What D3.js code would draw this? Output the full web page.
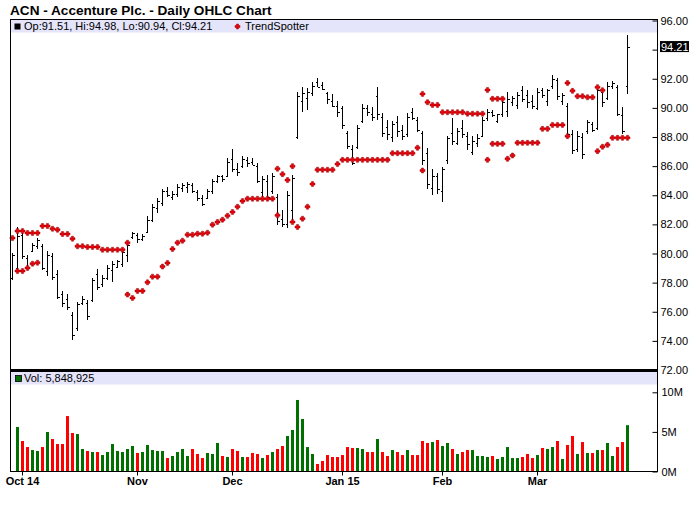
<!DOCTYPE html>
<html>
<head>
<meta charset="utf-8">
<script src="https://cdn.jsdelivr.net/npm/d3@7"></script>
<style>
  body { margin: 0; background: #fff; }
  text { font-family: "Liberation Sans", Arial, sans-serif; }
</style>
</head>
<body>
<svg id="chart" width="700" height="512"></svg>
<script>
// one entry per trading day, Sep 29 2014 .. Mar 26 2015
let openPrice = [
  78.3, 79.0, 81.3, 79.7, 80.2, 80.5, 80.5, 78.8, 79.8, 78.6,
  77.2, 76.9, 75.8, 74.9, 76.6, 76.6, 76.8, 78.6, 77.9, 78.3,
  78.9, 79.1, 79.3, 79.9, 81.1, 81.3, 81.0, 81.5, 82.3, 83.1,
  83.5, 84.3, 83.9, 84.1, 84.5, 84.6, 84.7, 84.2, 83.8, 83.8,
  84.3, 85.0, 85.3, 85.3, 86.5, 85.8, 86.0, 86.4, 86.3, 86.0,
  84.2, 85.0, 84.3, 83.9, 82.4, 82.0, 83.0, 88.0, 90.5, 90.7,
  91.0, 91.8, 91.6, 91.0, 90.5, 90.1, 90.0, 88.3, 87.2, 87.3,
  89.1, 90.0, 89.6, 90.8, 89.4, 88.7, 88.0, 89.0, 88.5, 88.2,
  89.7, 89.2, 88.3, 86.9, 84.5, 85.3, 84.3, 86.4, 88.3, 87.6,
  88.6, 88.1, 87.0, 87.6, 88.1, 89.3, 89.7, 89.1, 89.6, 89.8,
  90.4, 90.2, 91.2, 90.9, 90.5, 90.0, 91.2, 90.5, 91.5, 91.9,
  90.5, 90.1, 88.2, 87.2, 88.0, 88.4, 88.9, 88.6, 91.1, 90.7,
  91.5, 91.4, 89.5, 91.51
];
let highPrice = [
  80.03, 81.82, 81.59, 79.92, 80.72, 81.09, 80.67, 80.17, 80.03, 78.89,
  77.43, 77.24, 75.99, 76.67, 77.06, 76.83, 78.34, 78.96, 78.55, 79.19,
  79.48, 79.58, 80.26, 80.79, 81.47, 81.40, 81.36, 82.55, 83.42, 83.80,
  84.45, 84.56, 84.30, 84.79, 84.85, 84.90, 84.83, 84.33, 84.03, 84.45,
  85.13, 85.41, 85.41, 86.55, 87.19, 86.20, 86.69, 86.62, 86.55, 86.20,
  85.31, 85.41, 85.54, 84.10, 82.96, 84.26, 85.41, 91.12, 91.42, 91.35,
  91.81, 92.03, 91.81, 91.12, 90.96, 90.50, 90.16, 88.40, 87.42, 88.79,
  90.27, 90.23, 90.09, 91.42, 89.63, 89.18, 89.09, 89.47, 88.79, 89.63,
  90.00, 89.36, 88.40, 87.26, 85.82, 85.52, 85.93, 88.10, 89.31, 88.63,
  89.18, 88.33, 88.10, 88.22, 89.36, 89.93, 89.86, 89.59, 90.62, 91.07,
  90.84, 91.07, 91.48, 91.26, 90.89, 91.35, 91.35, 91.30, 92.26, 92.03,
  91.03, 90.34, 88.45, 88.38, 88.29, 89.20, 89.02, 91.42, 91.30, 91.76,
  91.87, 91.58, 90.05, 94.98
];
let lowPrice = [
  78.20, 78.73, 79.65, 78.85, 80.10, 80.33, 78.85, 78.46, 78.20, 76.90,
  76.33, 76.10, 74.09, 74.69, 76.45, 75.42, 76.67, 77.48, 77.70, 78.20,
  78.04, 79.03, 79.07, 79.42, 81.02, 80.72, 80.86, 81.40, 82.16, 82.80,
  83.26, 83.87, 83.65, 83.90, 84.20, 84.17, 84.17, 83.58, 83.26, 83.76,
  84.10, 84.86, 84.90, 85.25, 85.59, 85.31, 85.86, 85.93, 86.05, 84.86,
  83.65, 83.58, 84.10, 81.98, 81.82, 81.75, 82.27, 87.83, 89.70, 89.82,
  90.80, 91.42, 91.26, 90.27, 90.05, 89.36, 88.56, 87.19, 86.05, 87.19,
  88.95, 89.41, 89.13, 89.18, 88.03, 87.81, 87.65, 87.99, 87.81, 88.03,
  89.18, 88.33, 86.11, 84.45, 83.99, 84.06, 83.53, 86.16, 87.42, 87.42,
  87.94, 87.12, 86.73, 87.30, 88.03, 89.13, 89.36, 88.95, 89.36, 89.36,
  90.16, 89.93, 90.39, 90.00, 89.89, 89.82, 90.66, 90.12, 91.30, 90.57,
  90.20, 87.99, 86.85, 86.96, 86.46, 88.22, 88.33, 88.45, 90.05, 90.57,
  91.30, 89.43, 88.22, 90.94
];
let closePrice = [
  79.9, 81.2, 79.8, 79.1, 80.6, 80.9, 79.0, 79.9, 78.4, 77.0,
  76.6, 76.3, 74.4, 76.5, 76.9, 75.7, 78.2, 77.7, 78.3, 79.0,
  79.3, 79.5, 80.1, 80.6, 81.4, 81.0, 81.2, 82.3, 83.2, 83.6,
  84.3, 84.0, 84.1, 84.6, 84.7, 84.75, 84.3, 83.8, 83.4, 84.3,
  85.0, 85.3, 85.1, 86.3, 85.8, 85.6, 86.5, 86.2, 86.1, 85.0,
  85.1, 83.9, 85.3, 82.2, 82.0, 84.0, 85.2, 90.8, 91.0, 91.1,
  91.5, 91.45, 91.3, 90.6, 90.1, 89.7, 88.8, 87.4, 86.2, 88.6,
  90.0, 89.7, 89.4, 89.6, 88.3, 88.2, 88.9, 88.4, 88.1, 89.4,
  89.3, 88.5, 86.4, 84.8, 85.3, 84.4, 85.8, 87.9, 87.7, 88.4,
  88.2, 87.5, 87.7, 87.9, 89.2, 89.7, 89.5, 89.55, 90.4, 90.6,
  90.7, 90.9, 90.6, 90.4, 90.1, 91.1, 90.9, 91.2, 92.0, 90.8,
  90.9, 88.2, 87.1, 88.1, 86.8, 89.0, 88.5, 91.2, 90.4, 91.5,
  91.7, 89.6, 88.4, 94.21
];
// volume in millions, first day has no bar
let volume = [
  null, 5.62, 3.85, 3.09, 2.71, 2.59, 3.09, 4.99, 4.10, 3.47,
  3.47, 7.00, 4.86, 4.73, 2.84, 2.59, 2.46, 2.46, 2.08, 2.46,
  3.47, 2.59, 2.46, 2.84, 3.22, 2.34, 2.46, 3.35, 2.71, 2.59,
  2.59, 1.70, 1.96, 2.46, 2.84, 1.96, 2.84, 2.21, 1.70, 2.34,
  2.21, 3.60, 1.96, 1.83, 2.84, 2.59, 1.83, 1.83, 2.34, 2.21,
  1.70, 2.08, 2.46, 2.84, 3.22, 4.48, 5.24, 9.03, 6.63, 3.09,
  2.21, 0.95, 1.33, 2.08, 1.83, 1.83, 2.08, 3.09, 2.97, 2.97,
  2.84, 2.46, 2.46, 4.10, 2.46, 1.96, 2.71, 2.46, 2.08, 2.71,
  2.08, 2.08, 3.85, 3.60, 3.72, 3.98, 3.22, 3.60, 2.84, 2.21,
  2.46, 2.71, 2.71, 1.96, 1.96, 1.83, 1.96, 1.58, 1.83, 3.09,
  1.70, 1.70, 1.83, 2.21, 1.70, 2.08, 2.97, 2.84, 3.09, 3.85,
  1.58, 3.35, 4.48, 2.21, 3.72, 2.34, 2.34, 2.71, 2.71, 3.60,
  1.96, 3.09, 3.72, 5.85
];
let volumeUp = [
  0, 1, 0, 0, 1, 1, 0, 1, 0, 0,
  0, 0, 0, 1, 1, 0, 1, 0, 1, 1,
  1, 1, 1, 1, 1, 0, 1, 1, 1, 1,
  1, 0, 1, 1, 1, 1, 0, 0, 0, 1,
  1, 1, 0, 1, 0, 0, 1, 0, 0, 0,
  1, 0, 1, 0, 0, 1, 1, 1, 1, 1,
  1, 0, 0, 0, 0, 0, 0, 0, 0, 1,
  1, 0, 0, 1, 0, 0, 1, 0, 0, 1,
  0, 0, 0, 0, 1, 0, 1, 1, 0, 1,
  0, 0, 1, 1, 1, 1, 0, 1, 1, 1,
  1, 1, 0, 0, 0, 1, 0, 1, 1, 0,
  1, 0, 0, 1, 0, 1, 0, 1, 0, 1,
  1, 0, 0, 1
];
let lastVolume = 5848925;

let _ = null;
let trendUpper = [
  81.06, 81.54, 81.54, 81.41, 81.41, 81.41, 81.89, 81.89, 81.70, 81.63,
  81.34, 81.34, 81.02, 80.50, 80.50, 80.45, 80.45, 80.45, 80.26, 80.26,
  80.26, 80.26, 80.26, 80.74, _, _, _, _, _, _,
  _, _, _, _, _, _, _, _, _, _,
  _, _, _, _, _, _, _, _, _, _,
  _, _, _, 85.82, 85.45, 85.04, 86.00, _, _, _,
  _, _, _, _, _, _, _, _, _, _,
  _, _, _, _, _, _, _, _, _, _,
  _, _, 90.96, 90.39, 90.20, 90.20, 89.70, 89.70, 89.70, 89.70,
  89.70, 89.60, 89.60, 89.60, 89.60, 91.23, 90.62, 90.62, 90.62, _,
  _, _, _, _, _, _, _, _, _, _,
  _, 91.71, 91.17, 90.80, 90.80, 90.73, 90.73, 91.42, 91.21, _,
  _, _, _, _
];
let trendLower = [
  _, 78.80, 78.80, 79.01, 79.30, 79.37, _, _, _, _,
  _, _, _, _, _, _, _, _, _, _,
  _, _, _, 77.18, 76.95, 77.43, 77.43, 78.02, 78.41, 78.41,
  79.10, 79.35, 80.31, 80.74, 80.88, 81.29, 81.29, 81.36, 81.36, 81.43,
  81.98, 82.16, 82.32, 82.59, 82.85, 83.21, 83.60, 83.76, 83.76, 83.76,
  83.76, 83.76, 83.76, 82.62, _, _, 82.16, 81.82, 82.39, 83.21,
  84.77, 85.75, 85.75, 85.75, 85.75, 86.14, 86.43, 86.43, 86.43, 86.43,
  86.43, 86.43, 86.43, 86.43, 86.43, 86.43, 86.89, 86.89, 86.89, 86.89,
  86.89, 87.26, 85.70, _, _, _, _, _, _, _,
  _, _, _, _, _, 86.43, 87.53, 87.53, 87.53, 86.50,
  86.73, 87.60, 87.60, 87.60, 87.60, 87.60, 88.56, 88.56, 88.83, 88.83,
  88.83, 88.06, _, _, _, _, _, 87.03, 87.33, 87.46,
  87.94, 87.94, 87.94, 87.94
];

let monthDay = [2, 25, 44, 66, 86, 105];
let monthLabels = ["Oct 14", "Nov", "Dec", "Jan 15", "Feb", "Mar"];
let priceTicks = [72, 74, 76, 78, 80, 82, 84, 86, 88, 90, 92, 94, 96];
let volumeTicks = [0, 5, 10];

let last = openPrice.length - 1;

let svg = d3.select("#chart");

let xScale = d3.scaleLinear()
  .domain([-0.4, 129.2])
  .range([10, 658]);

let yScale = d3.scaleLinear()
  .domain([72, 96])
  .range([370, 20.5]);

let vScale = d3.scaleLinear()
  .domain([0, 10])
  .range([471.5, 392.3]);

let px = i => Math.round(xScale(i)) + 0.5;

svg.append("text")
  .attr("x", 10)
  .attr("y", 15)
  .style("font-size", "13.6px")
  .style("font-weight", "bold")
  .text("ACN - Accenture Plc. - Daily OHLC Chart");

// legend bands
svg.append("rect")
  .attr("x", 10.5).attr("y", 20)
  .attr("width", 647).attr("height", 12.5)
  .attr("fill", "#e4e4fa");

svg.append("rect")
  .attr("x", 10.5).attr("y", 372)
  .attr("width", 647).attr("height", 12.5)
  .attr("fill", "#e4e4fa");

svg.append("rect")
  .attr("x", 14.5).attr("y", 23.5)
  .attr("width", 6).attr("height", 6)
  .attr("fill", "#000");

svg.append("text")
  .attr("x", 24).attr("y", 30)
  .style("font-size", "11px")
  .text("Op:" + openPrice[last] + ", Hi:" + highPrice[last] + ", Lo:" + lowPrice[last] + ", Cl:" + closePrice[last]);

let dotPath = "M-1,-2.5H1V-1H2.5V1H1V2.5H-1V1H-2.5V-1H-1Z";

svg.append("path")
  .attr("d", dotPath)
  .attr("transform", "translate(237.5,26.5)")
  .attr("fill", "#e8000b")
  .attr("stroke", "#9b0000")
  .attr("stroke-width", 0.5);

svg.append("text")
  .attr("x", 245).attr("y", 30)
  .style("font-size", "11px")
  .text("TrendSpotter");

svg.append("rect")
  .attr("x", 15.5).attr("y", 375.5)
  .attr("width", 6).attr("height", 6)
  .attr("fill", "#006e00")
  .attr("stroke", "#000")
  .attr("stroke-width", 0.8);

svg.append("text")
  .attr("x", 24).attr("y", 382)
  .style("font-size", "11px")
  .text("Vol: " + d3.format(",")(lastVolume));

// volume bars
svg.selectAll(".vol")
  .data(volume.map((v, i) => ({ v: v, i: i, up: volumeUp[i] })).filter(d => d.v !== null))
  .join("rect")
  .attr("class", "vol")
  .attr("x", d => Math.round(xScale(d.i)) - 1)
  .attr("y", d => vScale(d.v))
  .attr("width", 3)
  .attr("height", d => vScale(0) - vScale(d.v))
  .attr("fill", d => d.up ? "#007000" : "#ff0000");

// OHLC bars
let bars = svg.selectAll(".ohlc")
  .data(openPrice.map((o, i) => ({ o: o, h: highPrice[i], l: lowPrice[i], c: closePrice[i], i: i })))
  .join("g")
  .attr("class", "ohlc")
  .attr("stroke", "#000")
  .attr("stroke-width", 1)
  .attr("shape-rendering", "crispEdges");

bars.append("line")
  .attr("x1", d => px(d.i)).attr("x2", d => px(d.i))
  .attr("y1", d => yScale(d.h)).attr("y2", d => yScale(d.l));

bars.append("line")
  .attr("x1", d => px(d.i) - 2).attr("x2", d => px(d.i))
  .attr("y1", d => Math.round(yScale(d.o)) + 0.5).attr("y2", d => Math.round(yScale(d.o)) + 0.5);

bars.append("line")
  .attr("x1", d => px(d.i)).attr("x2", d => px(d.i) + 2)
  .attr("y1", d => Math.round(yScale(d.c)) + 0.5).attr("y2", d => Math.round(yScale(d.c)) + 0.5);

// trendspotter dots
let dots = [];
trendUpper.forEach((v, i) => { if (v !== null) dots.push({ v: v, i: i }); });
trendLower.forEach((v, i) => { if (v !== null) dots.push({ v: v, i: i }); });

svg.selectAll(".ts")
  .data(dots)
  .join("path")
  .attr("class", "ts")
  .attr("d", dotPath)
  .attr("transform", d => "translate(" + px(d.i) + "," + yScale(d.v) + ")")
  .attr("fill", "#e8000b")
  .attr("stroke", "#9b0000")
  .attr("stroke-width", 0.5);

// frame
svg.append("rect")
  .attr("x", 10.5).attr("y", 19.5)
  .attr("width", 647).attr("height", 452)
  .attr("fill", "none")
  .attr("stroke", "#000");

svg.append("line")
  .attr("x1", 10).attr("x2", 658)
  .attr("y1", 370.5).attr("y2", 370.5)
  .attr("stroke", "#000")
  .attr("stroke-width", 3);

// axes, the 94.00 label sits under the last close box
svg.append("g")
  .attr("transform", "translate(657.5,0)")
  .call(d3.axisRight(yScale)
          .tickValues(priceTicks)
          .tickFormat(d => Math.abs(yScale(d) - yScale(closePrice[last])) < 11 ? "" : d3.format(".2f")(d))
          .tickSizeInner(-5)
          .tickSizeOuter(0)
          .tickPadding(3));

svg.append("g")
  .attr("transform", "translate(657.5,0)")
  .call(d3.axisRight(vScale)
          .tickValues(volumeTicks)
          .tickFormat(d => d + "M")
          .tickSizeInner(-5)
          .tickSizeOuter(0)
          .tickPadding(4));

svg.append("g")
  .attr("transform", "translate(0,471.5)")
  .call(d3.axisBottom(xScale)
          .tickValues(monthDay)
          .tickFormat((d, i) => monthLabels[i])
          .tickSizeInner(4)
          .tickSizeOuter(0)
          .tickPadding(2))
  .selectAll("text")
  .style("font-weight", "bold");

svg.selectAll(".domain").remove();
svg.selectAll(".tick text")
  .style("font-family", "'Liberation Sans', Arial, sans-serif")
  .style("font-size", "11px")
  .attr("fill", "#000");
svg.selectAll(".tick line").attr("stroke", "#000");

// last close marker
let yLast = yScale(closePrice[last]);
svg.append("rect")
  .attr("x", 660).attr("y", yLast - 5.5)
  .attr("width", 29).attr("height", 11)
  .attr("fill", "#000");

svg.append("text")
  .attr("x", 661).attr("y", yLast + 4)
  .style("font-size", "11px")
  .attr("fill", "#fff")
  .text(d3.format(".2f")(closePrice[last]));
</script>
</body>
</html>
